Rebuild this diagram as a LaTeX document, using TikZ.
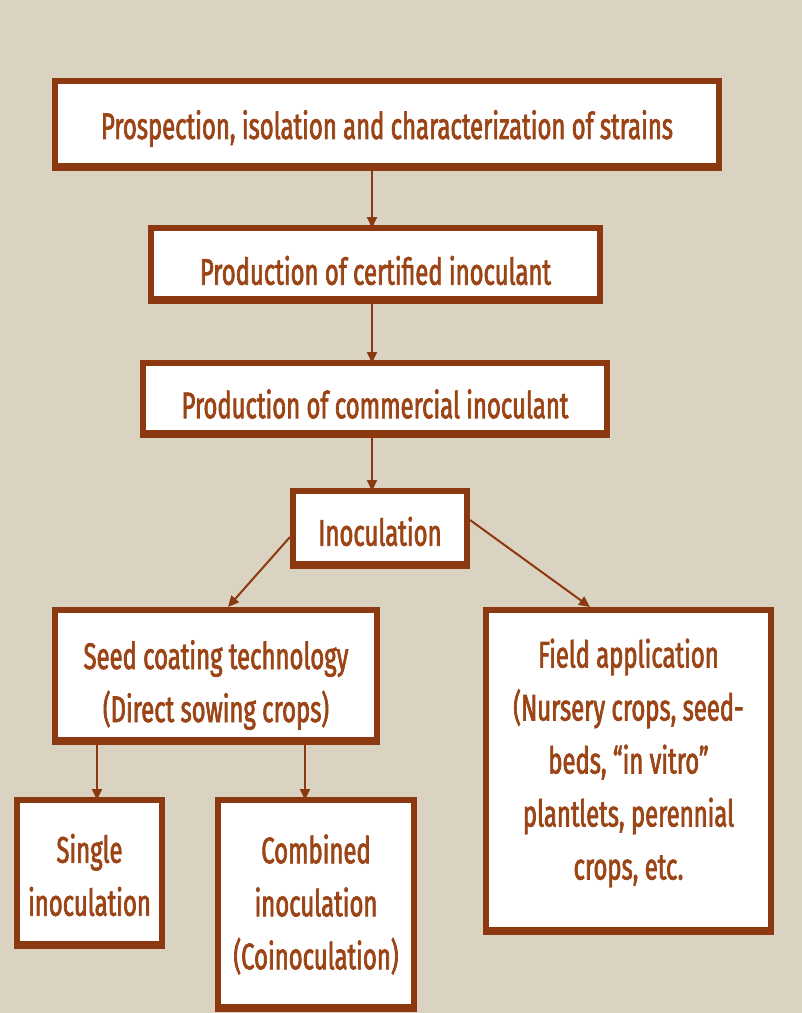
\documentclass[tikz,border=0pt]{standalone}
\usepackage{fontspec}
\setmainfont[FakeStretch=0.645,FakeBold=1.8]{Fira Sans}
\usetikzlibrary{arrows.meta}
\definecolor{bgc}{RGB}{219,211,193}
\definecolor{brd}{RGB}{140,56,16}
\definecolor{txt}{RGB}{155,68,22}
\tikzset{
  box/.style={draw=brd, line width=5.5pt, fill=white, inner sep=0pt, outer sep=0pt,
    preaction={draw=brd, line width=5.5pt, transform canvas={yshift=-2pt}}},
  lbl/.style={align=center, text=txt, inner sep=0pt, font=\fontsize{37}{53}\selectfont},
  arr/.style={draw=brd, line width=2pt, -{Triangle[length=11pt,width=10pt]}},
}
\begin{document}
\begin{tikzpicture}[x=1pt,y=-1pt]
\fill[bgc] (0,0) rectangle (802,1013);
\useasboundingbox (0,0) rectangle (802,1013);
\node[box, minimum width=664pt, minimum height=85pt] (b1) at (387,123.5) {};
\node[box, minimum width=449pt, minimum height=71pt] (b2) at (375.5,263.5) {};
\node[box, minimum width=464pt, minimum height=70pt] (b3) at (375,398) {};
\node[box, minimum width=174pt, minimum height=73pt] (b4) at (380,527.5) {};
\node[box, minimum width=322pt, minimum height=130pt] (b5) at (216,675) {};
\node[box, minimum width=145pt, minimum height=144pt] (b6) at (89.5,872) {};
\node[box, minimum width=196pt, minimum height=207pt] (b7) at (316,903.5) {};
\node[box, minimum width=285pt, minimum height=320pt] (b8) at (628.5,770) {};
\node[lbl] (t1) at ([yshift=-5pt]b1.center) {Prospection, isolation and characterization of strains};
\node[lbl] (t2) at ([yshift=-7pt]b2.center) {Production of certified inoculant};
\node[lbl] (t3) at ([yshift=-6pt]b3.center) {Production of commercial inoculant};
\node[lbl] (t4) at ([yshift=-4pt]b4.center) {Inoculation};
\node[lbl] (t5) at ([yshift=-10pt]b5.center) {Seed coating technology\\(Direct sowing crops)};
\node[lbl] (t6) at ([yshift=-3pt]b6.center) {Single\\inoculation};
\node[lbl] (t7) at ([yshift=-1pt]b7.center) {Combined\\inoculation\\(Coinoculation)};
\node[lbl] (t8) at ([yshift=7pt]b8.center) {Field application\\(Nursery crops, seed-\\beds, ``in vitro''\\plantlets, perennial\\crops, etc.};
\coordinate (ax) at (372,0);
\coordinate (s1) at (97,0);
\coordinate (s2) at (305,0);
\draw[arr] (b1.south -| ax) -- (b2.north -| ax);
\draw[arr] (b2.south -| ax) -- (b3.north -| ax);
\draw[arr] (b3.south -| ax) -- (b4.north -| ax);
\coordinate (l1) at (290,537);
\coordinate (l2) at (228,607);
\coordinate (r1) at (470,520);
\coordinate (r2) at (590,607);
\draw[arr] (l1) -- (l2);
\draw[arr] (r1) -- (r2);
\draw[arr] (b5.south -| s1) -- (b6.north -| s1);
\draw[arr] (b5.south -| s2) -- (b7.north -| s2);
\end{tikzpicture}
\end{document}
